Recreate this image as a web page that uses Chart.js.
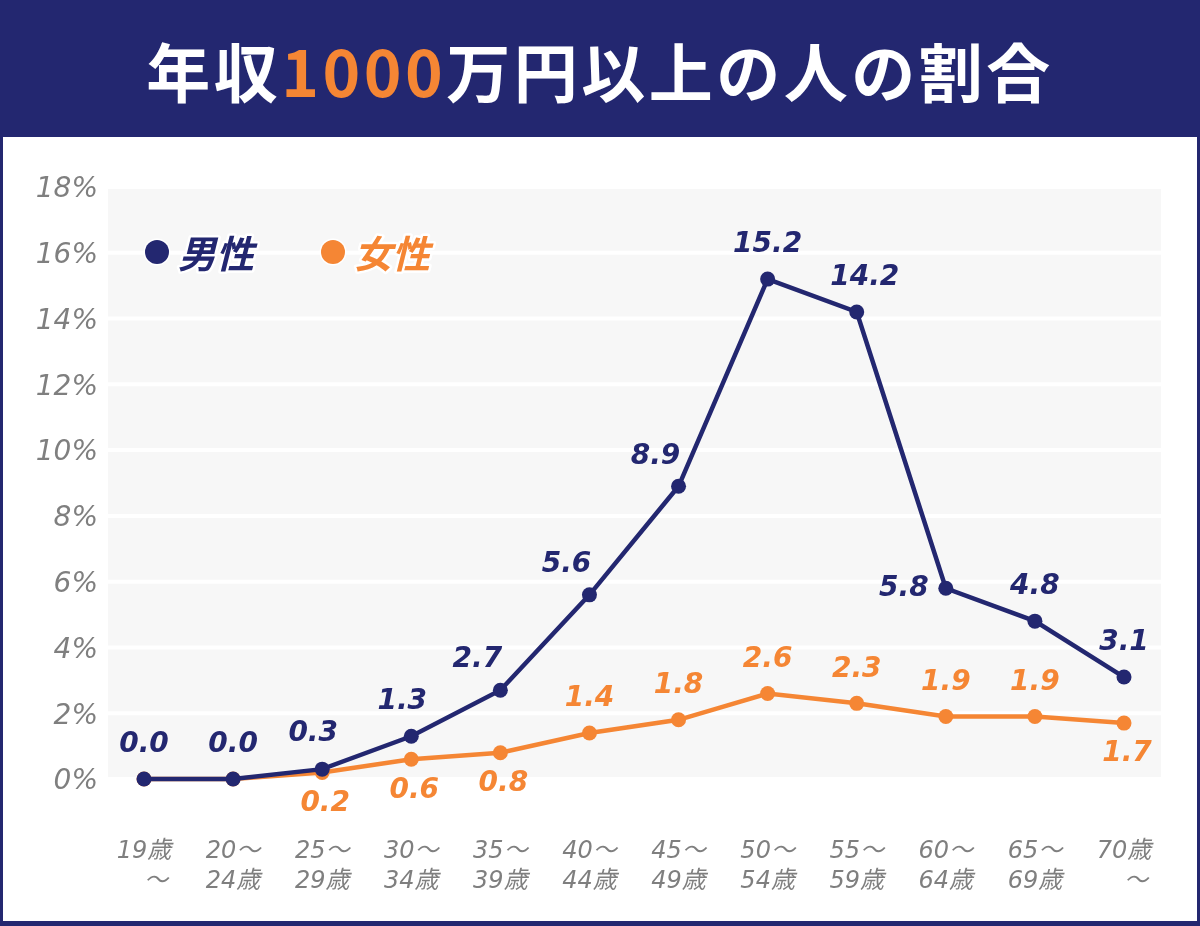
<!DOCTYPE html>
<html lang="ja">
<head>
  <meta charset="UTF-8">
  <title>年収1000万円以上の人の割合</title>
  <script src="https://cdn.jsdelivr.net/npm/chart.js"></script>
</head>
<body>

  <!-- タイトル -->
  <div id="header">
    <h1>年収<span class="accent">1000</span>万円以上の人の割合</h1>
  </div>

  <!-- グラフ -->
  <div id="chart-box">
    <canvas id="chart" width="1194" height="784"></canvas>
  </div>

<style>
html, body {
  margin: 0;
  padding: 0;
}

body {
  width: 1200px;
  height: 926px;
  background: #232770;
  overflow: hidden;
}

#header {
  height: 137px;
  display: flex;
  align-items: center;
  justify-content: center;
}

#header h1 {
  margin: 0;
  color: #fff;
  font-family: "Noto Sans CJK JP", sans-serif;
  font-weight: 700;
  font-size: 64px;
  letter-spacing: 3.5px;
  line-height: 1;
}

#header .accent {
  color: #f58634;
}

#chart-box {
  position: absolute;
  left: 3px;
  top: 137px;
  width: 1194px;
  height: 784px;
  background: #fff;
}

canvas {
  display: block;
}
</style>

<script>
const NAVY = '#232770';
const ORANGE = '#f58634';

// データ
const ageLabels = [
  ['19歳', '　～'], ['20～', '24歳'], ['25～', '29歳'], ['30～', '34歳'],
  ['35～', '39歳'], ['40～', '44歳'], ['45～', '49歳'], ['50～', '54歳'],
  ['55～', '59歳'], ['60～', '64歳'], ['65～', '69歳'], ['70歳', '　～']
];
const maleValues = [0.0, 0.0, 0.3, 1.3, 2.7, 5.6, 8.9, 15.2, 14.2, 5.8, 4.8, 3.1];
const femaleValues = [0.0, 0.0, 0.2, 0.6, 0.8, 1.4, 1.8, 2.6, 2.3, 1.9, 1.9, 1.7];
const yTicks = [0, 2, 4, 6, 8, 10, 12, 14, 16, 18];

// 数値ラベルの位置 (点に対して)
const maleLabelPos = ['top', 'top', 'topL', 'topL', 'topLeft', 'topLeft', 'topLeft', 'top', 'topR', 'left', 'top', 'top'];
const femaleLabelPos = [null, null, 'bottom', 'bottom', 'bottom', 'top', 'top', 'top', 'top', 'top', 'top', 'bottom'];

const labelOffsets = {
  top: [0, -34],
  topL: [-9, -35],
  topLeft: [-23, -30],
  topR: [8, -34],
  left: [-42, 0],
  bottom: [3, 31]
};

// 背景の灰色の帯と白い目盛線
const bandPlugin = {
  id: 'band',
  beforeDatasetsDraw(chart) {
    const { ctx, chartArea, scales } = chart;
    const y = scales.y;
    const left = chartArea.left - 36;
    const right = chartArea.right + 37;
    ctx.save();
    ctx.fillStyle = '#f7f7f7';
    ctx.fillRect(left, y.getPixelForValue(18), right - left, y.getPixelForValue(0) - y.getPixelForValue(18));
    ctx.strokeStyle = '#ffffff';
    ctx.lineWidth = 4;
    yTicks.forEach(v => {
      const py = y.getPixelForValue(v);
      ctx.beginPath();
      ctx.moveTo(left, py);
      ctx.lineTo(right, py);
      ctx.stroke();
    });
    ctx.restore();
  }
};

// 数値ラベルと凡例
const labelPlugin = {
  id: 'valueLabels',
  afterDatasetsDraw(chart) {
    const { ctx, chartArea } = chart;
    ctx.save();
    ctx.font = 'italic bold 28px "DejaVu Sans"';
    ctx.textAlign = 'center';
    ctx.textBaseline = 'middle';
    const posLists = [maleLabelPos, femaleLabelPos];
    chart.data.datasets.forEach((ds, i) => {
      const meta = chart.getDatasetMeta(i);
      meta.data.forEach((pt, j) => {
        const pos = posLists[i][j];
        if (!pos) return;
        const [dx, dy] = labelOffsets[pos];
        ctx.fillStyle = ds.borderColor;
        ctx.fillText(ds.data[j].toFixed(1), pt.x + dx, pt.y + dy);
      });
    });

    // 凡例
    ctx.font = 'italic bold 38px "Noto Sans CJK JP"';
    ctx.textAlign = 'left';
    let x = chartArea.left + 13;
    const ly = chartArea.top + 65;
    chart.data.datasets.forEach(ds => {
      ctx.beginPath();
      ctx.arc(x, ly, 12, 0, Math.PI * 2);
      ctx.fillStyle = ds.borderColor;
      ctx.strokeStyle = '#fff';
      ctx.lineWidth = 3;
      ctx.stroke();
      ctx.fill();
      ctx.lineWidth = 5;
      ctx.lineJoin = 'round';
      ctx.strokeText(ds.label, x + 21, ly + 2);
      ctx.fillText(ds.label, x + 21, ly + 2);
      x += 176;
    });
    ctx.restore();
  }
};

const ctx = document.getElementById('chart').getContext('2d');

new Chart(ctx, {
  type: 'line',
  data: {
    labels: ageLabels,
    datasets: [
      {
        label: '男性',
        data: maleValues,
        borderColor: NAVY,
        backgroundColor: NAVY,
        borderWidth: 4.5,
        pointRadius: 7.5,
        pointHoverRadius: 7.5,
        pointBorderWidth: 0,
        tension: 0,
        clip: false
      },
      {
        label: '女性',
        data: femaleValues,
        borderColor: ORANGE,
        backgroundColor: ORANGE,
        borderWidth: 4.5,
        pointRadius: 7.5,
        pointHoverRadius: 7.5,
        pointBorderWidth: 0,
        tension: 0,
        clip: false
      }
    ]
  },
  options: {
    responsive: false,
    animation: false,
    events: [],
    layout: {
      padding: { top: 50, right: 73, left: 0, bottom: 0 }
    },
    plugins: {
      legend: { display: false },
      tooltip: { enabled: false }
    },
    scales: {
      x: {
        offset: false,
        // tickLength で軸からの距離を取る (線は描かない)
        grid: { display: false, drawTicks: true, tickLength: 58 },
        border: { display: false },
        ticks: {
          color: '#7f7f7f',
          padding: 0,
          maxRotation: 0,
          autoSkip: false,
          font: { family: '"DejaVu Sans", "Noto Sans CJK JP"', size: 24, style: 'italic', lineHeight: 1.25 }
        },
        afterFit(scale) { scale.height = 142; }
      },
      y: {
        min: 0,
        max: 18,
        grid: { display: false, drawTicks: true, tickLength: 46 },
        border: { display: false },
        ticks: {
          stepSize: 2,
          color: '#7f7f7f',
          padding: 0,
          labelOffset: 3,
          font: { family: '"DejaVu Sans"', size: 28, style: 'italic' },
          callback: v => v + '%'
        },
        afterFit(scale) { scale.width = 141; }
      }
    }
  },
  plugins: [bandPlugin, labelPlugin]
});
</script>
</body>
</html>
